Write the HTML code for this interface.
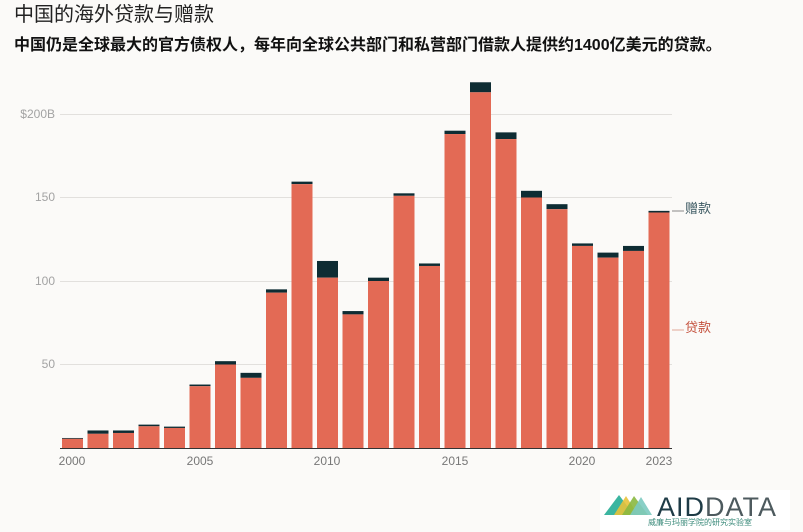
<!DOCTYPE html>
<html><head><meta charset="utf-8"><style>
body{margin:0;background:#fbfaf8;width:803px;height:532px;overflow:hidden}
svg{display:block}
text{font-family:"Liberation Sans","Noto Sans CJK SC",sans-serif}
</style></head><body>
<svg width="803" height="532" viewBox="0 0 803 532" xmlns="http://www.w3.org/2000/svg">
<rect width="803" height="532" fill="#fbfaf8"/>
<text x="14" y="21" font-size="20" fill="#222">中国的海外贷款与赠款</text>
<text x="14" y="50" font-size="16" font-weight="bold" fill="#111">中国仍是全球最大的官方债权人，每年向全球公共部门和私营部门借款人提供约1400亿美元的贷款。</text>
<g stroke="#e2e0dd" stroke-width="1">
<line x1="60" x2="672" y1="114.5" y2="114.5"/>
<line x1="60" x2="672" y1="197.5" y2="197.5"/>
<line x1="60" x2="672" y1="281.5" y2="281.5"/>
<line x1="60" x2="672" y1="364.5" y2="364.5"/>
</g>
<g font-size="12" fill="#a3a3a3" text-anchor="end">
<text x="55" y="118">$200B</text>
<text x="55" y="201">150</text>
<text x="55" y="285">100</text>
<text x="55" y="368">50</text>
</g>
<g id="bars"></g>
<line x1="60" x2="672" y1="448.5" y2="448.5" stroke="#333" stroke-width="1"/>
<g font-size="12" fill="#777" text-anchor="middle">
<text x="72" y="465">2000</text>
<text x="200" y="465">2005</text>
<text x="327" y="465">2010</text>
<text x="455" y="465">2015</text>
<text x="582" y="465">2020</text>
<text x="659" y="465">2023</text>
</g>
<line x1="672" x2="684" y1="211" y2="211" stroke="#888"/>
<text x="685" y="213" font-size="13" fill="#3d5a63">赠款</text>
<line x1="672" x2="684" y1="330" y2="330" stroke="#e0a898"/>
<text x="685" y="332" font-size="13" fill="#c4503c">贷款</text>
<rect x="600" y="490" width="190" height="40" fill="#fff"/>
<polygon points="604,515 619,495 634,515" fill="#3bb5a0"/>
<polygon points="614,515 626,496 638,515" fill="#e8c23a" opacity="0.9"/>
<polygon points="622,515 634,496 648,515" fill="#8ab840" opacity="0.9"/>
<polygon points="630,515 641,497 652,515" fill="#7ccac0" opacity="0.9"/>
<text x="657" y="516" font-size="27" fill="#1e3b46" letter-spacing="1">AID<tspan fill="#4d5a5e">DATA</tspan></text>
<text x="648" y="525" font-size="8" fill="#3a8a7a">威廉与玛丽学院的研究实验室</text>
</svg>
<script>
var d=[[5.5,6],[8.5,10.5],[9,10.5],[13,14],[12,12.8],[37,38],[50,52],[42,45],[93,95],[158,159.5],[102,112],[80,82],[100,102],[151,152.5],[109,110.5],[188,190],[213,219],[185,189],[150,154],[143,146],[121,122.5],[114,117],[118,121],[141,142]];
var s=1.67,z=448,g=document.getElementById('bars'),h='';
d.forEach(function(v,i){var x=62+25.5*i,w=21;
var yl=z-v[0]*s,yg=z-v[1]*s;
h+='<rect x="'+x+'" y="'+yg+'" width="'+w+'" height="'+(yl-yg)+'" fill="#0e2c33"/>';
h+='<rect x="'+x+'" y="'+yl+'" width="'+w+'" height="'+(z-yl)+'" fill="#e36a55"/>';});
g.innerHTML=h;
</script>
</body></html>
